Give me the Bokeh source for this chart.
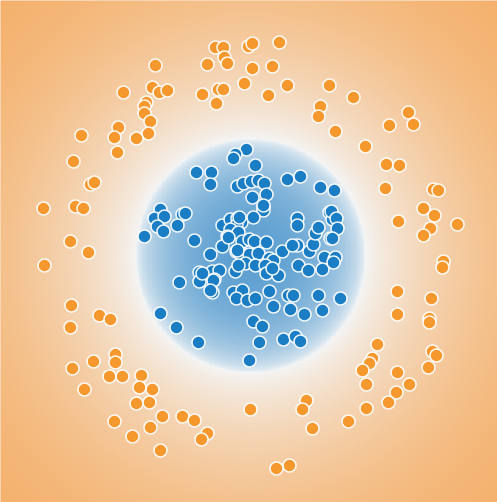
import numpy as np
from bokeh.plotting import figure
from bokeh.models import Range1d
from bokeh.embed import file_html
from bokeh.resources import INLINE

# ---- data: class 0 (orange, outer ring) ----
orange_x = [-0.95, -0.98, -0.91, -0.83, -1.27, -1.04, -1.06, -1.06, -1.00, -1.02, -1.14, -1.32, -1.36, -1.33, -1.69, -1.77,
            -0.35, -0.27, -0.26, -0.23, -0.43, -0.02, 0.02, 0.29, 0.02, 0.22, -0.06, 0.37, 0.18, -0.48, -0.32, -0.27, -0.34,
            0.79, 0.70, 0.68, 0.85, 1.03, 1.58, 1.63, 1.39, 1.15, 1.36, 1.49,
            -1.60, -1.56, -2.07, -1.75, -1.67, -1.80, -1.62, -2.06, -1.79, -1.51, -1.40, -1.80,
            1.35, 1.83, 1.88, 1.73, 1.84, 1.48, 2.07, 1.80, 1.73, 1.93, 1.92, 1.47, 1.81, 1.47, 1.79, 1.79,
            -1.35, -1.35, -1.57, -1.78, -1.41, -1.28, -1.09, -1.11, -0.98, -1.66, -1.14, -1.01, -0.88, -1.36, -1.00, -1.18, -0.90,
            -0.68, -0.56, -0.43, -0.49, 0.00, 0.56, 0.52, 0.62, 0.26, 0.39,
            1.27, 1.22, 1.19, 1.12, 1.47, 1.82, 1.86, 1.78, 1.16, 1.59, 1.46, 1.38, 1.16, 0.98]
orange_y = [1.85, 1.63, 1.58, 1.60, 1.58, 1.48, 1.44, 1.37, 1.29, 1.17, 1.12, 1.23, 1.13, 0.98, 1.15, 0.89,
            2.03, 2.03, 1.93, 1.87, 1.86, 2.04, 2.07, 2.08, 1.82, 1.84, 1.67, 1.65, 1.55, 1.56, 1.61, 1.61, 1.47,
            1.65, 1.44, 1.34, 1.19, 1.53, 1.38, 1.26, 1.25, 1.04, 0.86, 0.85,
            0.66, 0.68, 0.42, 0.44, 0.42, 0.09, -0.02, -0.15, -0.55, -0.65, -0.69, -0.77,
            0.62, 0.61, 0.60, 0.42, 0.35, 0.29, 0.26, 0.22, 0.15, -0.11, -0.17, -0.41, -0.48, -0.64, -0.68, -0.72,
            -1.04, -1.12, -1.11, -1.18, -1.26, -1.26, -1.25, -1.37, -1.39, -1.39, -1.53, -1.52, -1.66, -1.71, -1.77, -1.86, -2.00,
            -1.66, -1.70, -1.83, -1.89, -1.59, -1.50, -1.59, -1.78, -2.18, -2.15,
            -0.94, -1.08, -1.13, -1.20, -1.22, -1.01, -1.05, -1.17, -1.34, -1.34, -1.42, -1.52, -1.58, -1.71]

# ---- data: class 1 (blue, inner cluster) ----
blue_x = [-0.04, -0.15, -0.17, 0.05, -0.54, -0.39, -0.40, -0.13, -0.07, 0.01, 0.08, 0.14, 0.16, 0.02, 0.13, 0.13, 0.37, 0.50, 0.70, 0.84,
          -0.90, -0.96, -0.86, -0.93, -0.87, -1.06, -0.68, -0.65, -0.73,
          -0.28, -0.20, -0.13, -0.09, -0.14, -0.20, -0.23, -0.12, 0.03, -0.08, -0.01, 0.04, 0.16, -0.56, -0.28, -0.40, -0.14, -0.10,
          -0.01, 0.08, 0.19, 0.23, 0.32, 0.47, 0.59, 0.63, 0.65, 0.68, 0.47, 0.47, 0.79, 0.82, 0.80, 0.74, 0.84, 0.48, 0.58, 0.72,
          0.81, 0.86, 0.87, 0.82, 0.85, 0.83, 0.90,
          -0.51, -0.51, -0.38, -0.31, -0.36, -0.15, -0.05, -0.12, 0.05, 0.15, 0.16, 0.28, 0.22, -0.71, -0.38, -0.17, -0.08, -0.14,
          -0.03, 0.05, 0.19, 0.38, 0.43, 0.68, 0.23, 0.40, 0.54, 0.72, 0.03, 0.12,
          -0.90, -0.74, -0.52, 0.09, 0.33, 0.45, 0.50, -0.01,
          -0.11, 0.13, -0.22, -0.13, 0.42, -0.37, -0.40, -0.48]
blue_y = [1.01, 0.96, 0.92, 0.85, 0.78, 0.78, 0.66, 0.64, 0.67, 0.69, 0.70, 0.67, 0.56, 0.53, 0.43, 0.40, 0.71, 0.74, 0.63, 0.60,
          0.41, 0.32, 0.34, 0.24, 0.19, 0.14, 0.36, 0.37, 0.25,
          0.25, 0.31, 0.32, 0.28, 0.25, 0.21, 0.14, 0.18, 0.33, 0.09, 0.11, 0.09, 0.08, 0.10, 0.04, -0.04, -0.01, -0.03,
          -0.04, -0.03, -0.08, -0.10, -0.01, 0.05, -0.01, 0.06, 0.17, 0.23, 0.32, 0.25, 0.38, 0.31, 0.12, -0.07, -0.09, -0.15, -0.20, -0.19,
          0.39, 0.32, 0.22, 0.12, -0.07, -0.12, -0.48,
          -0.22, -0.31, -0.21, -0.20, -0.29, -0.21, -0.13, -0.15, -0.15, -0.15, -0.23, -0.25, -0.18, -0.32, -0.42, -0.42, -0.40, -0.48,
          -0.50, -0.48, -0.41, -0.45, -0.45, -0.45, -0.56, -0.59, -0.64, -0.60, -0.71, -0.76,
          -0.63, -0.77, -0.92, -0.92, -0.89, -0.86, -0.91, -1.10,
          0.33, 0.45, 0.13, 0.00, 0.05, -0.30, -0.40, -0.23]

X_MIN, X_MAX = -2.50, 2.47
Y_MIN, Y_MAX = -2.52, 2.50

# ---- decision surface: quadratic least-squares classifier fitted to the points ----
ox, oy = np.array(orange_x), np.array(orange_y)
bx, by = np.array(blue_x), np.array(blue_y)
X = np.concatenate([ox, bx])
Y = np.concatenate([oy, by])
lab = np.concatenate([-np.ones(len(ox)), np.ones(len(bx))])


def feats(x, y):
    return np.stack([np.ones_like(x), x, y, x * x, x * y, y * y], axis=-1)


coef, *_ = np.linalg.lstsq(feats(X, Y), lab, rcond=None)

nx, ny = 300, 300
gx = np.linspace(X_MIN, X_MAX, nx)
gy = np.linspace(Y_MIN, Y_MAX, ny)
GX, GY = np.meshgrid(gx, gy)
THRESH = 0.35
F = feats(GX, GY) @ coef - THRESH

white = np.array([244, 246, 247], dtype=float)
blue_c = np.array([94, 160, 209], dtype=float)
orange_c = np.array([244, 172, 98], dtype=float)

fmax = F.max()
tb = np.clip(F / fmax, 0, 1) ** 0.6
to = (1 - np.exp(-np.clip(-F, 0, None) / 3.0)) ** 0.7
rgb = white[None, None, :] * (1 - tb[..., None] - to[..., None]) \
    + blue_c[None, None, :] * tb[..., None] + orange_c[None, None, :] * to[..., None]
rgb = np.clip(rgb, 0, 255).astype(np.uint8)

img = np.empty((ny, nx), dtype=np.uint32)
view = img.view(dtype=np.uint8).reshape((ny, nx, 4))
view[..., 0] = rgb[..., 0]
view[..., 1] = rgb[..., 1]
view[..., 2] = rgb[..., 2]
view[..., 3] = 255

p = figure(width=497, height=502, output_backend="svg", toolbar_location=None,
           x_range=Range1d(X_MIN, X_MAX), y_range=Range1d(Y_MIN, Y_MAX),
           min_border=0, min_border_left=0, min_border_right=0,
           min_border_top=0, min_border_bottom=0)
p.axis.visible = False
p.grid.visible = False
p.outline_line_color = None
p.background_fill_color = "#f5c08a"
p.border_fill_color = None

p.image_rgba(image=[img], x=X_MIN, y=Y_MIN, dw=X_MAX - X_MIN, dh=Y_MAX - Y_MIN)

p.scatter(x=orange_x, y=orange_y, size=13, fill_color="#f5992f", line_color="white",
          line_width=1.6, line_alpha=0.9)
p.scatter(x=blue_x, y=blue_y, size=13, fill_color="#1b7ec4", line_color="white",
          line_width=1.6, line_alpha=0.9)

open("out.html", "w").write(file_html(p, INLINE))
